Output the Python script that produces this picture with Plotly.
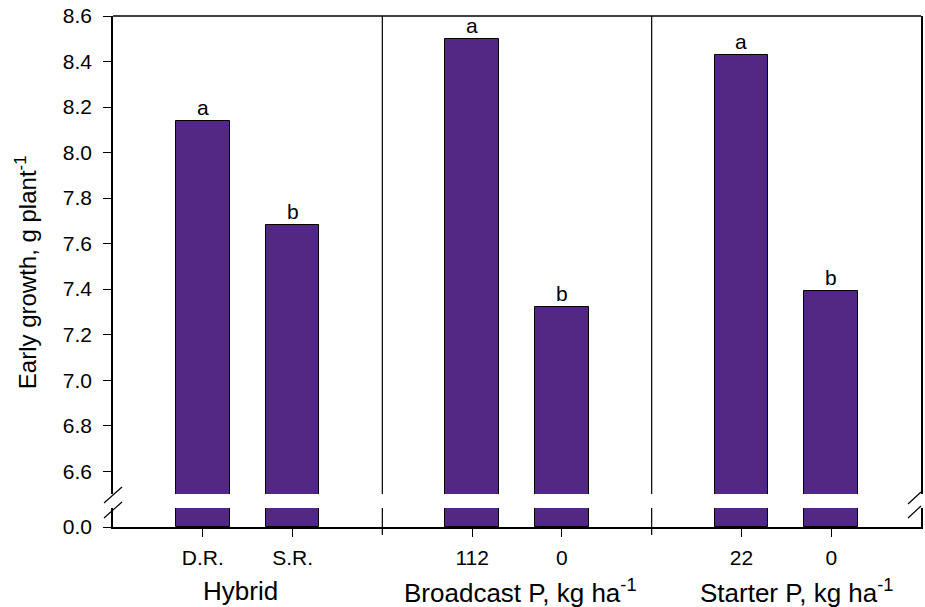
import plotly.graph_objects as go

# Early growth by treatment (g plant^-1)
groups = ["Hybrid", "Broadcast P, kg ha<sup>-1</sup>", "Starter P, kg ha<sup>-1</sup>"]
group_levels = [["D.R.", "S.R."], ["112", "0"], ["22", "0"]]
growth = [[8.14, 7.68], [8.50, 7.32], [8.43, 7.39]]
letters = [["a", "b"], ["a", "b"], ["a", "b"]]

# Axis settings
upper_range = [6.5, 8.6]
upper_ticks = [6.6, 6.8, 7.0, 7.2, 7.4, 7.6, 7.8, 8.0, 8.2, 8.4, 8.6]
lower_ticks = [0.0]

BAR_COLOR = "rgb(82,40,132)"
FONT = "Liberation Sans, Arial, sans-serif"

W, H = 925, 607
ML, MR, MT, MB = 113, 2, 16, 80
PW, PH = W - ML - MR, H - MT - MB

# Pixel rows of the broken axis
Y_TOP, Y_BREAK_HI, Y_BREAK_LO, Y_ZERO = 16, 494, 508, 527

# horizontal nudges of the group titles (px)
TITLE_SHIFT = [-7, 3, 10]


def py(y_px):
    return (Y_ZERO - y_px) / PH


def px(x_px):
    return (x_px - ML) / PW


# x positions: two bars per group, one empty slot between groups
xs, labels, vals, lets, centers = [], [], [], [], []
pos = 1
for g, lv in enumerate(group_levels):
    start = pos
    for i, lab in enumerate(lv):
        xs.append(pos)
        labels.append(lab)
        vals.append(growth[g][i])
        lets.append(letters[g][i])
        pos += 1
    centers.append((start + pos - 1) / 2)
    pos += 1
x_range = [0, pos - 1]
dividers = [(xs[2 * k + 1] + xs[2 * k + 2]) / 2 for k in range(len(groups) - 1)]

upper_px_per_unit = (Y_BREAK_HI - Y_TOP) / (upper_range[1] - upper_range[0])
lower_range = [0, (Y_ZERO - Y_BREAK_LO) / upper_px_per_unit]

fig = go.Figure()
for yax in ["y", "y2"]:
    fig.add_trace(go.Bar(
        x=xs, y=vals, width=0.6, yaxis=yax, xaxis="x",
        marker=dict(color=BAR_COLOR, line=dict(color="black", width=1)),
        showlegend=False, hoverinfo="x+y",
    ))

tickfont = dict(family=FONT, size=21, color="black")

fig.update_layout(
    width=W, height=H,
    margin=dict(l=ML, r=MR, t=MT, b=MB),
    paper_bgcolor="white", plot_bgcolor="white",
    bargap=0,
    xaxis=dict(
        range=x_range, anchor="y2", tickvals=xs, ticktext=labels,
        showline=True, linecolor="black", linewidth=1.5,
        ticks="outside", ticklen=8, tickwidth=1.2, tickcolor="black",
        tickfont=tickfont, ticklabelstandoff=3,
        showgrid=False, zeroline=False, fixedrange=True,
    ),
    yaxis=dict(
        domain=[py(Y_BREAK_HI), 1], range=upper_range, anchor="x",
        tickvals=upper_ticks, tickformat=".1f",
        showline=True, mirror=True, linecolor="black", linewidth=1.5,
        ticks="outside", ticklen=8, tickwidth=1.2, tickcolor="black",
        tickfont=tickfont, ticklabelstandoff=7,
        showgrid=False, zeroline=False,
    ),
    yaxis2=dict(
        domain=[0, py(Y_BREAK_LO)], range=lower_range, anchor="x",
        tickvals=lower_ticks, tickformat=".1f",
        showline=True, mirror=True, linecolor="black", linewidth=1.5,
        ticks="outside", ticklen=8, tickwidth=1.2, tickcolor="black",
        tickfont=tickfont, ticklabelstandoff=7,
        showgrid=False, zeroline=False,
    ),
)

shapes = []
# top frame line
shapes.append(dict(type="line", xref="paper", yref="paper", x0=0, x1=1, y0=1, y1=1,
                   line=dict(color="black", width=1.5)))
# group dividers, interrupted at the axis break
for d in dividers:
    shapes.append(dict(type="line", xref="x", yref="paper", x0=d, x1=d,
                       y0=py(Y_BREAK_HI), y1=1, line=dict(color="black", width=1.2)))
    shapes.append(dict(type="line", xref="x", yref="paper", x0=d, x1=d,
                       y0=py(Y_ZERO + 8), y1=py(Y_BREAK_LO), line=dict(color="black", width=1.2)))
# break marks on left and right axes
for (x0, y0, x1, y1) in [(104, 503, 122, 487), (104, 518, 122, 502),
                         (910, 504, 923, 492), (910, 518, 923, 506)]:
    shapes.append(dict(type="line", xref="paper", yref="paper",
                       x0=px(x0), y0=py(y0), x1=px(x1), y1=py(y1),
                       line=dict(color="black", width=1.2)))
fig.update_layout(shapes=shapes)

annotations = []
# significance letters above the bars
for x, v, t in zip(xs, vals, lets):
    annotations.append(dict(x=x, y=v, xref="x", yref="y", text=t, showarrow=False,
                            yanchor="bottom", yshift=0,
                            font=dict(family=FONT, size=21, color="black")))
# group titles
for c, g, s in zip(centers, groups, TITLE_SHIFT):
    annotations.append(dict(x=c, y=py(591), xref="x", yref="paper", text=g, showarrow=False,
                            yanchor="middle", xanchor="center", xshift=s,
                            font=dict(family=FONT, size=26, color="black")))
# y-axis title
annotations.append(dict(x=px(26), y=py(272), xref="paper", yref="paper",
                        text="Early growth, g plant<sup>-1</sup>", showarrow=False,
                        textangle=-90, xanchor="center", yanchor="middle",
                        font=dict(family=FONT, size=24, color="black")))
fig.update_layout(annotations=annotations)

fig.write_html("out.html")
